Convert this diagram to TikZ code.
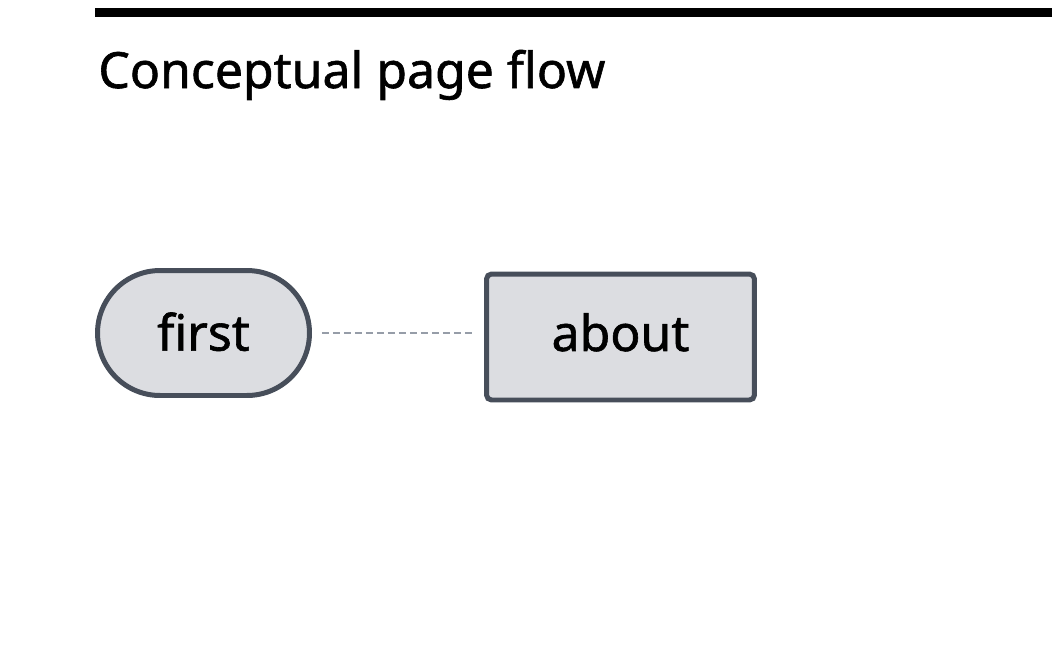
\documentclass[tikz,border=0pt]{standalone}
\usepackage{fontspec}
\setmainfont{Noto Sans}[FakeBold=1.2]
\usetikzlibrary{shapes.misc}
\definecolor{pagefill}{HTML}{DCDDE1}
\definecolor{pageedge}{HTML}{474E5A}
\definecolor{flowdash}{HTML}{969DA8}

\begin{document}
\begin{tikzpicture}[
  x=0.02cm, y=-0.02cm,
  every node/.style={font=\fontsize{28.4}{34}\selectfont\bfseries, text=black},
  startpage/.style={rounded rectangle, fill=pagefill, draw=pageedge,
    line width=0.1cm, minimum width=4.24cm, minimum height=2.5cm, inner sep=0pt,
    text depth=0.06cm},
  pagebox/.style={rectangle, rounded corners=0.1cm, fill=pagefill, draw=pageedge,
    line width=0.1cm, minimum width=5.36cm, minimum height=2.52cm, inner sep=0pt,
    text depth=0.2cm},
  flowlink/.style={flowdash, line width=0.04cm, dash pattern=on 0.14cm off 0.08cm,
    shorten <=0.2cm, shorten >=0.2cm}
]
\useasboundingbox (0,0) rectangle (1052,654);

% Heading rule and title.
\fill[black] (95,8) rectangle (1052,17);
\node[anchor=base west, inner sep=0pt] (title) at (98,88) {Conceptual page flow};

% Pages.
\node[startpage] (first) at (203.5,333) {first};
\node[pagebox] (about) at (620.5,337) {about};

% Page link.
\draw[flowlink] (first.east) -- (first.east -| about.west);
\end{tikzpicture}
\end{document}
